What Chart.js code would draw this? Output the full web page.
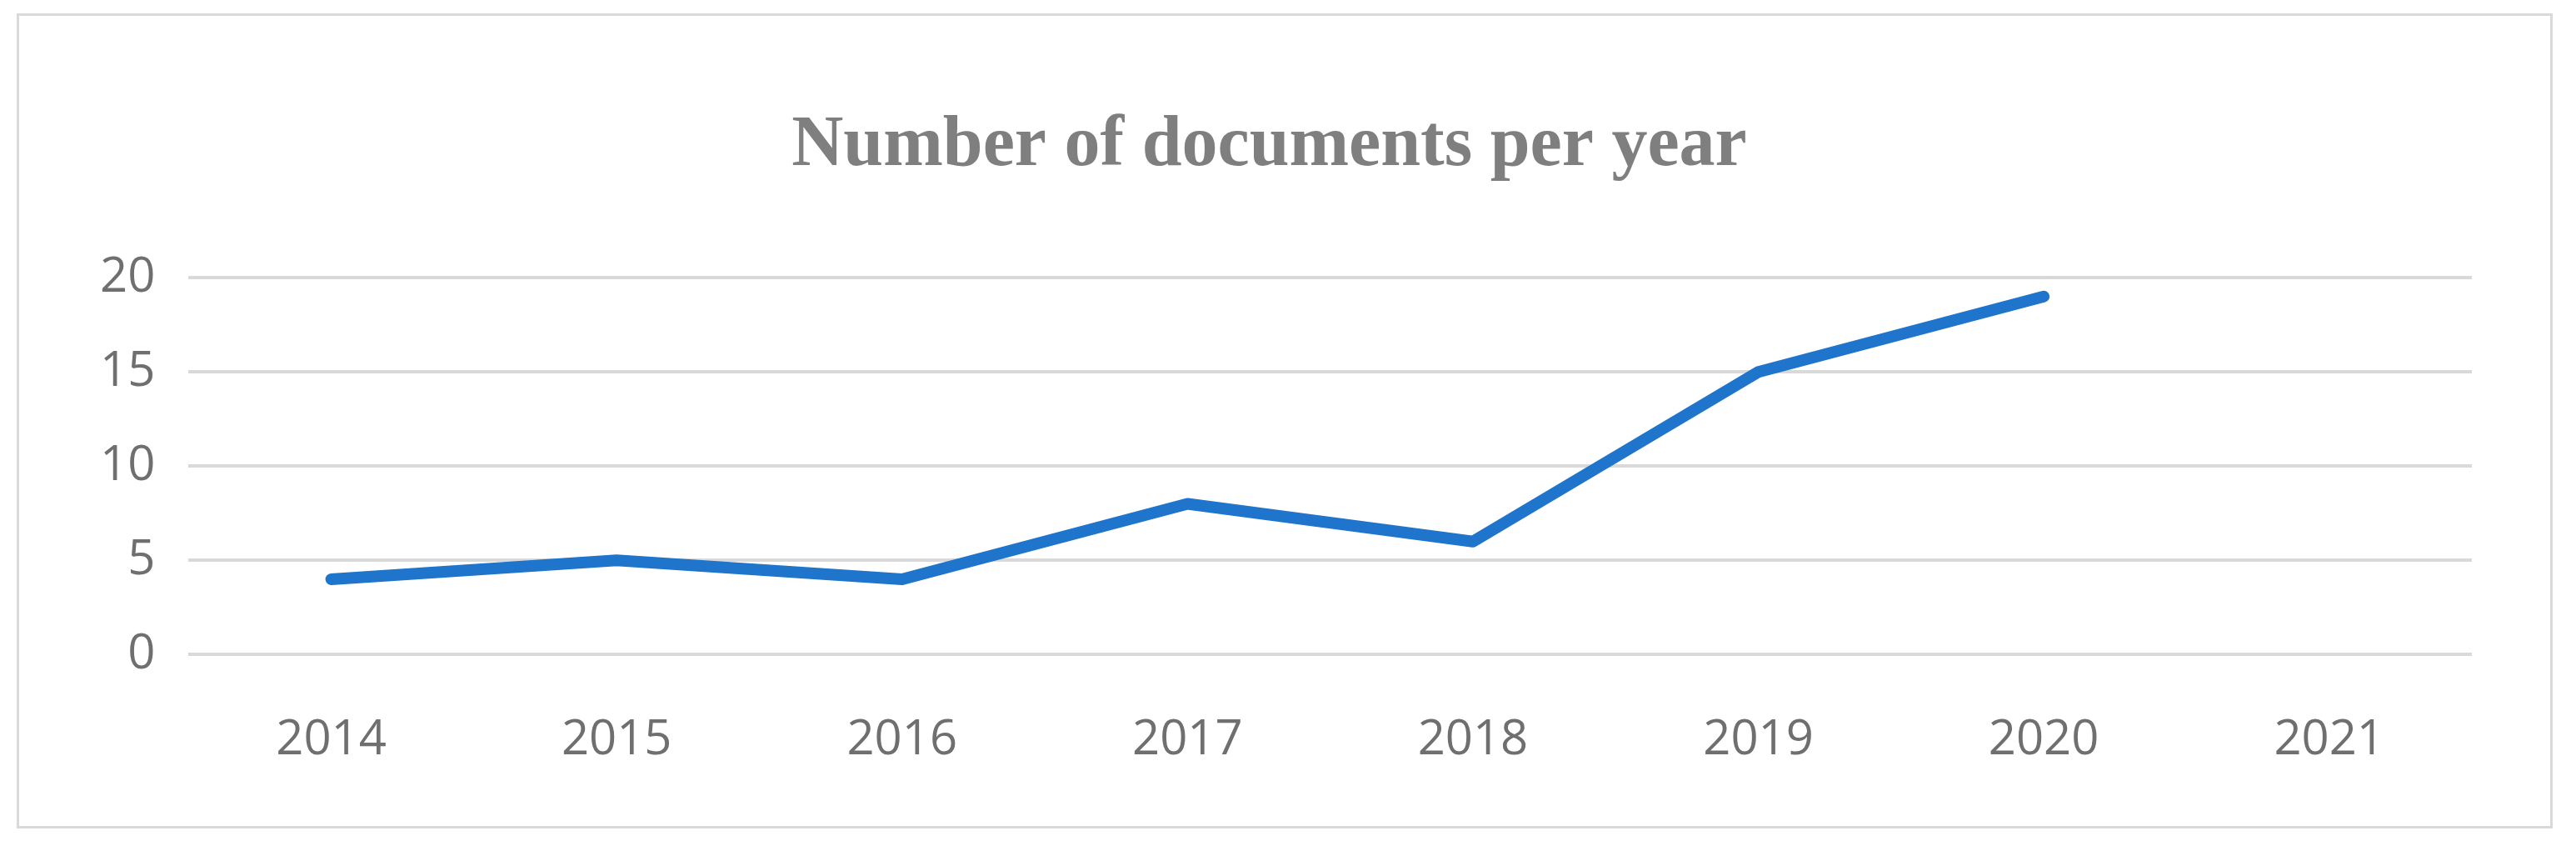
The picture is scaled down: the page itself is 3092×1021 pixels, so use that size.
<!DOCTYPE html>
<html>
<head>
<meta charset="utf-8">
<script src="https://cdn.jsdelivr.net/npm/chart.js@4/dist/chart.umd.min.js"></script>
<style>
  html, body { margin: 0; padding: 0; background: #fff; }
  .frame {
    position: absolute; left: 20px; top: 16px; width: 3044px; height: 978px;
    border: 3px solid #d9d9d9; box-sizing: border-box;
  }
  canvas { position: absolute; left: 0; top: 0; }
</style>
</head>
<body>
<div class="frame"></div>
<canvas id="chart" width="3092" height="1021"></canvas>
<script>
  const years = ["2014", "2015", "2016", "2017", "2018", "2019", "2020", "2021"];
  const documents = [4, 5, 4, 8, 6, 15, 19, null];
  const yTicks = [0, 5, 10, 15, 20];

  const ctx = document.getElementById("chart");
  new Chart(ctx, {
    type: "line",
    data: {
      labels: years,
      datasets: [
        {
          label: "Documents",
          data: documents,
          borderColor: "#1f74cc",
          borderWidth: 14,
          borderCapStyle: "round",
          borderJoinStyle: "round",
          pointRadius: 0,
          tension: 0,
          fill: false,
        },
      ],
    },
    options: {
      responsive: false,
      devicePixelRatio: 1,
      animation: false,
      layout: { padding: { left: 80, right: 125, top: 70, bottom: 38 } },
      plugins: {
        legend: { display: false },
        tooltip: { enabled: false },
        title: {
          display: true,
          text: "Number of documents per year",
          color: "#7f7f7f",
          font: { family: "Liberation Serif", size: 86, weight: "bold" },
          padding: { top: 54, bottom: 106 },
        },
      },
      scales: {
        y: {
          min: 0,
          max: 20,
          afterBuildTicks: (axis) => { axis.ticks = yTicks.map((v) => ({ value: v })); },
          grid: { color: "#d9d9d9", lineWidth: 4, drawTicks: false },
          border: { display: false },
          ticks: {
            color: "#6f6f6f",
            padding: 40,
            font: { family: "Open Sans", size: 58 },
          },
        },
        x: {
          offset: true,
          grid: { display: false },
          border: { display: false },
          ticks: {
            color: "#6f6f6f",
            padding: 60,
            font: { family: "Open Sans", size: 58 },
          },
        },
      },
    },
  });
</script>
</body>
</html>
